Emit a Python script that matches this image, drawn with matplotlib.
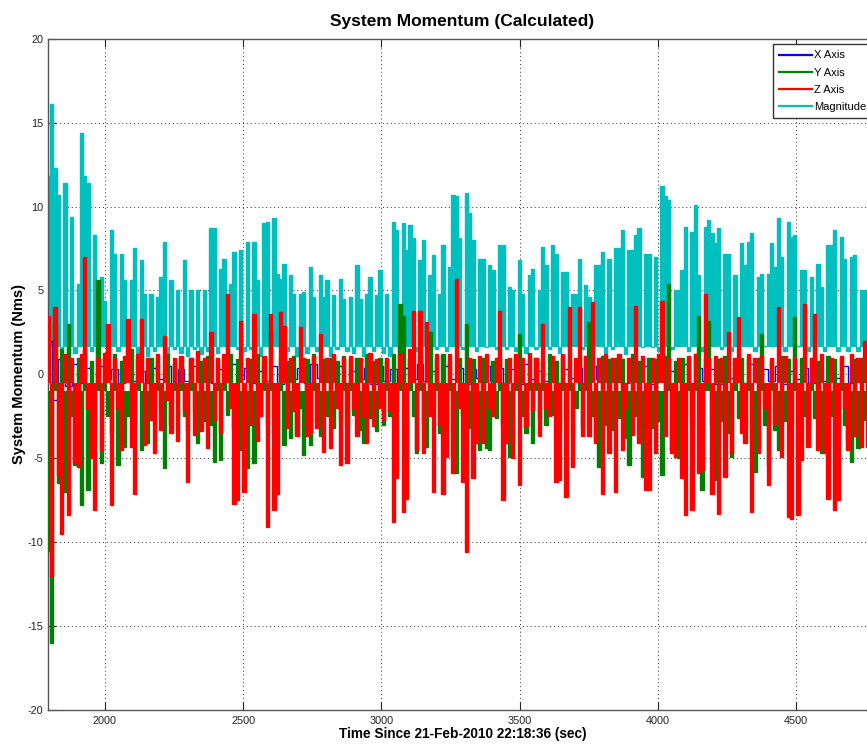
import numpy as np
import matplotlib
matplotlib.use("Agg")
import matplotlib.pyplot as plt
from matplotlib.lines import Line2D

plt.rcParams['font.family'] = ['Liberation Sans', 'DejaVu Sans']
plt.rcParams['axes.unicode_minus'] = False

# sample grid (seconds since 21-Feb-2010 22:18:36), one sample every 12 s
t_start = 1795
t_step = 12
n_samples = 250

# momentum magnitude (Nms)
mag_axis = [
    11.8, 16.1, 12.3, 10.7, 1.4, 11.4, 1.2, 9.4, 1.3, 5.4,
    14.4, 11.8, 11.4, 1.4, 8.3, 1.3, 5.8, 4.4, 1.6, 8.6,
    7.2, 1.4, 7.2, 5.6, 1.2, 5.6, 7.5, 1.3, 6.8, 4.8,
    1.1, 4.8, 1.4, 4.6, 5.8, 7.9, 1.2, 5.6, 1.5, 5.0,
    1.3, 6.8, 1.1, 5.0, 1.5, 5.0, 1.2, 5.0, 1.4, 8.7,
    8.7, 1.3, 6.3, 6.9, 1.4, 5.4, 7.3, 1.5, 7.4, 1.4,
    7.9, 1.5, 7.9, 5.6, 1.1, 9.0, 9.1, 1.3, 9.3, 6.0,
    5.7, 6.6, 1.4, 5.9, 4.8, 1.1, 4.8, 4.9, 1.3, 6.4,
    4.6, 1.4, 5.9, 4.6, 5.6, 1.1, 4.7, 1.5, 5.7, 4.5,
    1.4, 4.6, 1.3, 6.5, 4.5, 1.1, 4.8, 5.8, 1.4, 4.7,
    6.2, 1.3, 4.8, 1.1, 9.1, 8.6, 1.4, 9.0, 7.4, 8.9,
    8.1, 1.4, 6.8, 8.0, 1.6, 5.9, 7.1, 1.5, 4.8, 7.7,
    1.4, 6.4, 10.7, 10.6, 8.1, 1.5, 10.8, 9.6, 8.0, 1.4,
    6.9, 6.9, 1.6, 6.5, 6.2, 1.5, 7.7, 7.7, 1.5, 5.2,
    5.0, 1.4, 6.8, 4.8, 1.3, 5.9, 6.3, 1.5, 5.0, 7.6,
    6.5, 1.5, 7.7, 7.2, 1.3, 6.1, 6.1, 1.4, 4.8, 4.8,
    6.9, 1.5, 5.3, 4.6, 1.4, 6.5, 6.5, 7.3, 1.3, 6.9,
    1.5, 7.5, 7.5, 8.6, 1.2, 7.4, 7.4, 8.3, 8.7, 1.6,
    7.2, 7.2, 1.6, 7.0, 1.4, 11.2, 10.6, 10.4, 1.5, 5.0,
    5.0, 6.2, 8.8, 1.4, 8.5, 10.1, 5.9, 1.4, 8.8, 9.2,
    8.4, 7.8, 8.7, 1.5, 7.2, 7.2, 1.4, 5.9, 1.7, 7.8,
    6.5, 7.9, 8.4, 1.4, 5.8, 6.0, 1.7, 6.0, 7.8, 6.4,
    9.3, 7.0, 1.4, 9.1, 8.2, 8.3, 1.7, 6.2, 6.2, 1.4,
    5.8, 1.4, 6.6, 5.2, 1.4, 7.7, 7.7, 8.6, 1.4, 8.2,
    6.9, 1.4, 7.0, 7.1, 1.4, 5.0, 5.0, 1.4, 5.5, 4.8,
]

# Z axis momentum (Nms)
z_axis = [
    3.5, -12.0, 4.0, -6.0, -9.5, 1.2, -8.4, 1.0, -5.3, -5.5,
    1.2, 7.0, -2.0, -5.0, -8.1, 1.0, -4.5, 1.3, 3.0, -7.8,
    1.0, -2.0, -4.5, 1.1, 3.3, -4.3, -7.1, 1.2, 3.3, -4.2,
    1.0, -2.7, -4.7, 1.2, -3.3, 2.3, -1.5, -3.5, 1.0, -4.0,
    1.1, -2.2, -6.4, 1.0, -3.6, 1.4, -3.4, 1.0, -4.4, 2.5,
    -2.7, 1.0, -3.5, 1.2, 4.8, -2.0, -7.7, -7.5, 3.2, -7.0,
    1.0, -3.0, 3.6, -4.0, -2.5, 1.1, -9.1, 3.6, -8.1, -7.1,
    3.7, 2.9, -3.2, 1.0, -2.2, -3.7, 2.8, 1.0, -3.7, -3.5,
    1.1, -3.2, 2.4, -4.6, 1.0, -4.4, 1.2, -2.0, -5.4, 1.0,
    -5.3, 1.1, -2.0, -3.7, 1.0, -2.5, -4.1, 1.3, -3.1, 0.9,
    -2.0, -2.7, 1.0, -2.2, -8.8, -6.2, 1.2, -8.2, -7.4, 1.5,
    3.8, -4.5, 3.8, -4.7, 3.1, -2.5, -7.0, 1.2, -3.0, -7.1,
    -4.9, 1.2, -5.9, 5.7, -2.0, -6.4, -10.6, 1.0, -6.2, -4.1,
    1.1, -4.1, 1.2, -2.0, -2.5, 1.0, 3.8, -7.5, -4.1, 1.0,
    -5.0, 1.2, -6.6, 1.0, -3.1, 1.3, -2.1, 1.0, -3.7, 3.0,
    -2.0, -2.5, 1.1, -6.4, -6.3, 1.2, -7.3, 4.0, -5.5, 1.0,
    4.0, -3.7, 1.1, -3.7, 4.3, -4.1, 1.0, -7.1, 1.2, -4.7,
    1.0, -7.0, 1.2, -4.5, -2.0, 1.0, -3.6, 4.1, -4.1, 1.1,
    -6.9, -6.9, 1.0, -4.7, 1.2, 4.4, -3.7, 1.0, -4.7, -4.9,
    1.0, -6.2, -8.4, 1.1, -8.1, 1.2, -5.9, -5.7, 4.8, 1.0,
    -7.1, 1.1, -8.3, 1.0, -6.1, 2.5, -4.7, 1.0, 3.4, -3.5,
    -4.1, 1.2, -8.2, 1.0, -4.7, 1.1, -2.0, -6.6, 1.0, -3.0,
    4.0, -4.9, 1.1, -8.5, -8.6, 1.0, -8.4, -5.1, 4.2, -4.3,
    1.0, 3.6, -4.5, 1.2, -4.7, -7.4, 1.0, -8.1, -7.5, 1.1,
    -2.0, -4.5, 1.2, -3.7, 1.0, -4.3, 2.0, -4.3, 1.0, -3.5,
]

# Y axis momentum (Nms)
y_axis = [
    -10.5, -16.0, 3.0, -6.5, 1.5, -7.0, 3.0, -2.5, -5.4, 1.0,
    -7.8, 1.5, -6.9, 0.8, -3.0, 5.6, -5.3, 1.0, -2.5, -3.5,
    1.2, -5.4, 0.8, -4.3, -2.5, 1.5, -3.0, 0.9, -4.5, -2.0,
    -4.1, 1.0, -2.5, 0.8, -2.0, -5.6, 1.2, -3.0, 0.7, -2.6,
    0.9, -2.5, -3.3, 1.0, -2.2, -4.1, 0.8, -2.8, 1.1, -3.0,
    -5.2, 1.0, -5.1, 0.8, -2.4, 1.2, -3.2, 0.9, -4.5, -2.0,
    -5.6, 0.9, -5.3, 1.2, -2.5, 0.8, -3.0, 2.6, -3.5, -4.3,
    1.0, -4.2, 0.8, -3.8, 1.1, -3.6, -2.0, -4.8, 0.9, -4.2,
    1.2, -2.8, -3.7, 0.9, -2.5, 1.0, -3.2, 0.8, -2.7, 1.1,
    -3.0, 0.9, -2.4, 1.0, -3.3, -4.1, 1.2, -2.6, 0.8, -3.4,
    1.0, -3.0, 0.8, -2.5, 1.2, -2.2, 4.2, 3.5, -5.2, 1.0,
    -2.5, -4.7, 1.1, -3.0, -4.3, 2.5, -2.0, 0.9, -3.5, 1.2,
    -3.0, 0.8, -3.5, -5.9, 1.0, -2.4, 3.0, -3.2, 0.9, -3.0,
    -4.5, 1.0, -4.4, -4.5, 0.8, -2.6, 1.1, -3.0, 0.9, -4.9,
    -4.0, 1.1, 2.4, -2.5, -3.5, 0.9, -4.1, 1.0, -2.6, 0.8,
    -3.0, 1.2, -2.4, 0.8, -3.4, 1.0, -2.8, 0.9, -3.6, -2.0,
    1.0, -3.2, 0.8, 3.1, -2.5, -4.0, -5.5, 1.1, -3.0, 0.9,
    -3.3, 1.0, -2.6, 0.9, -3.8, -5.4, 1.2, -2.5, 0.8, -6.1,
    -6.1, 1.0, -3.2, 0.9, -2.8, -6.0, 1.1, 5.4, -4.5, 0.8,
    -5.0, 1.0, -2.6, 0.9, -3.0, 1.2, 3.5, -6.9, 1.0, 3.2,
    -3.0, -6.3, 0.9, -2.8, 1.1, -3.5, -4.9, 0.8, -2.6, 1.0,
    -3.2, 0.9, -2.5, -5.8, 1.0, 2.4, -3.0, -5.4, 0.8, -3.3,
    -4.5, 1.1, -2.8, 0.9, -3.0, 3.4, -5.2, 1.0, -2.5, -3.1,
    1.0, -2.6, 0.8, -4.7, -3.0, 1.1, -2.5, 0.9, -3.4, 1.0,
    -3.0, -4.0, -5.2, 0.9, -4.4, 1.0, -2.7, 0.8, -3.2, 1.1,
]

# X axis momentum (Nms), logged every other sample
x_axis = [
    2.0, -1.5, 0.9, -0.7, 0.6, -0.5, 0.4, -0.6, 0.5, -0.3, 0.3, -0.5, 0.6, -0.4, 0.2, -0.5, 0.4, -0.3, 0.5, -0.6, 0.3, -0.4, 0.5, -0.2, 0.4,
    -0.5, 0.3, -0.4, 0.6, -0.3, 0.4, -0.5, 0.2, -0.4, 0.5, -0.6, 0.3, -0.3, 0.4, -0.5, 0.6, -0.2, 0.3, -0.4, 0.5, -0.5, 0.2, -0.3, 0.4, -0.6,
    0.5, -0.4, 0.3, -0.5, 0.4, -0.3, 0.6, -0.4, 0.2, -0.5, 0.5, -0.3, 0.4, -0.6, 0.3, -0.2, 0.5, -0.4, 0.4, -0.5, 0.3, -0.6, 0.6, -0.3, 0.2,
    -0.4, 0.5, -0.5, 0.3, -0.2, 0.4, -0.6, 0.5, -0.3, 0.6, -0.4, 0.3, -0.5, 0.4, -0.2, 0.5, -0.6, 0.3, -0.4, 0.2, -0.3, 0.6, -0.5, 0.4, -0.4,
    0.3, -0.6, 0.5, -0.2, 0.4, -0.5, 0.6, -0.3, 0.3, -0.4, 0.5, -0.6, 0.2, -0.3, 0.4, -0.5, 0.6, -0.4, 0.3, -0.2, 0.5, -0.5, 0.4, -0.3, 0.3,
]

series_names = ['X Axis', 'Y Axis', 'Z Axis', 'Magnitude']
series_colors = ['#0000ff', '#008000', '#ff0000', '#00bfbf']
# level each trace is shaded back to, so the dense band reads solid
band_level = {'mag': 1.6, 'y': -1.0, 'z': -0.5}

t = t_start + t_step * np.arange(n_samples)
t_x = t[::2]

fig = plt.figure(figsize=(8.67, 7.47), dpi=100)
# axes run past the right edge of the figure, as in the saved window grab
ax = fig.add_axes([48.3 / 867, 37 / 747, 828.1 / 867, 671.3 / 747])

kw = dict(drawstyle='steps-mid', lw=1.0, solid_joinstyle='miter', solid_capstyle='butt')


def trace(vals, color, level, z):
    ax.fill_between(t, level, vals, step='mid', color=color, lw=0, zorder=z)
    ax.plot(t, vals, color=color, zorder=z, **kw)


trace(mag_axis, series_colors[3], band_level['mag'], 2)
ax.plot(t_x, x_axis, color=series_colors[0], zorder=3, **kw)
trace(y_axis, series_colors[1], band_level['y'], 4)
trace(z_axis, series_colors[2], band_level['z'], 5)

ax.set_xlim(1795, 4790)
ax.set_ylim(-20, 20)
ax.set_xticks(np.arange(2000, 4501, 500))
ax.set_yticks(np.arange(-20, 21, 5))
ax.grid(True, linestyle=(0, (1, 3)), color='#333333', lw=0.7)
ax.set_axisbelow(True)
ax.tick_params(direction='in', length=6, width=0.8, top=True, right=True,
               labelsize=7.8, labelcolor='#222222', color='#222222')
ax.tick_params(axis='x', pad=4)
ax.tick_params(axis='y', pad=3.5)
for s in ax.spines.values():
    s.set_color('#555555')
    s.set_linewidth(1.0)

ax.set_title('System Momentum (Calculated)', fontsize=12.5, fontweight='bold', pad=9)
ax.set_xlabel('Time Since 21-Feb-2010 22:18:36 (sec)', fontsize=9.8, fontweight='bold', labelpad=1)
ax.set_ylabel('System Momentum (Nms)', fontsize=10.5, fontweight='bold', labelpad=1)

handles = [Line2D([], [], color=c, lw=1.6) for c in series_colors]
leg = ax.legend(handles, series_names, loc='upper left',
                bbox_to_anchor=(772.7 / 867, 1 - 44.3 / 747),
                bbox_transform=fig.transFigure, fontsize=8,
                handlelength=3.0, handletextpad=0.2, labelspacing=0.65,
                borderpad=0.55, borderaxespad=0, fancybox=False,
                framealpha=1, edgecolor='#333333')
leg.get_frame().set_linewidth(1.0)
leg.set_zorder(10)

fig.savefig('out.png', dpi=100)
